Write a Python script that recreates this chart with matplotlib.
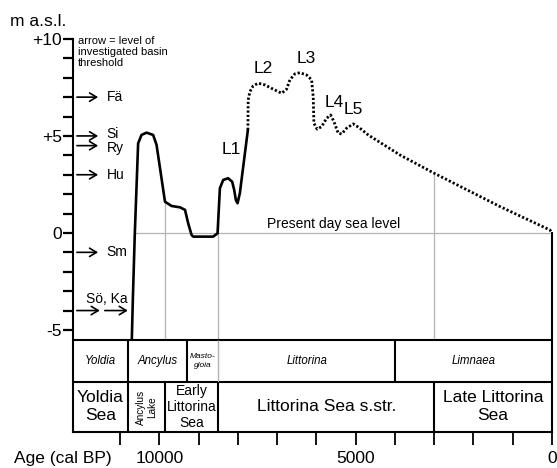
import numpy as np
import matplotlib.pyplot as plt

plt.rcParams['font.family'] = ['Liberation Sans', 'DejaVu Sans']

# shore level curve (age cal BP, m a.s.l.)
solid_age = [10702, 10676, 10627, 10541, 10455, 10327, 10159, 10072, 9857, 9690,
             9475, 9347, 9267, 9181, 9140, 8630, 8518, 8459, 8375, 8248,
             8146, 8095, 8052, 8009, 7950, 7746]
solid_lvl = [-5.5, -3.45, -0.1, 4.62, 5.05, 5.17, 5.05, 4.54, 1.61, 1.39,
             1.32, 1.19, 0.50, -0.10, -0.19, -0.19, -0.02, 2.30, 2.73, 2.82,
             2.64, 2.22, 1.70, 1.53, 2.05, 5.31]
dotted_age = [7746, 7738, 7695, 7611, 7483, 7313, 7101, 6887, 6760, 6676,
              6548, 6421, 6250, 6123, 6082, 6064, 5980, 5868, 5741, 5639,
              5555, 5445, 5358, 5231, 5063, 4892, 4681, 3873, 3032, 1325, 51, 0]
dotted_lvl = [5.31, 6.86, 7.28, 7.58, 7.72, 7.63, 7.41, 7.20, 7.41, 7.89,
              8.20, 8.26, 8.14, 7.89, 7.03, 5.65, 5.35, 5.48, 5.91, 6.08,
              5.74, 5.14, 5.10, 5.40, 5.62, 5.40, 5.05, 4.02, 3.11, 1.36, 0.15, 0.0]

peak_names = ['L1', 'L2', 'L3', 'L4', 'L5']
peak_age = [8179, 7364, 6268, 5555, 5063]
peak_lvl = [4.28, 8.5, 9.0, 6.7, 6.34]

# basin thresholds
basin_names = ['Fä', 'Si', 'Ry', 'Hu', 'Sm']
basin_lvl = [7, 5, 4.5, 3, -1]
basin_text_lvl = [7, 5.08, 4.4, 3, -1]
soka_lvl = -4

# zones
diatom_names = ['Yoldia', 'Ancylus', 'Masto-\ngloia', 'Littorina', 'Limnaea']
diatom_edges = [12200, 10800, 9300, 8500, 4000, 0]
stage_names = ['Yoldia\nSea', 'Ancylus\nLake', 'Early\nLittorina\nSea',
               'Littorina Sea s.str.', 'Late Littorina\nSea']
stage_edges = [12200, 10800, 9850, 8500, 3000, 0]

x_ticks = list(range(0, 12000, 1000))
x_labels = {10000: '10000', 5000: '5000', 0: '0'}
y_major = [-5, 0, 5, 10]
y_labels = ['-5', '0', '+5', '+10']

row1_top, row1_bot, row2_bot = -5.5, -7.68, -10.26
grey = '#b4b4b4'

fig = plt.figure(figsize=(5.57, 4.68), dpi=100)
ax = fig.add_axes([73 / 557, 36 / 468, 479 / 557, 402 / 468])
ax.set_xlim(12200, 0)
ax.set_ylim(row2_bot, 10.46)

# grid lines
curve_age = np.array(solid_age + dotted_age[1:])
curve_lvl = np.array(solid_lvl + dotted_lvl[1:])
ax.hlines(0, 10627, 0, color=grey, lw=0.9, zorder=1)
for a in [9850, 8500, 3000]:
    top = np.interp(a, curve_age[::-1], curve_lvl[::-1])
    bot = row1_bot if a == 8500 else row1_top
    ax.vlines(a, bot, top, color=grey, lw=0.9, zorder=1)

ax.plot(solid_age, solid_lvl, color='black', lw=1.9, solid_joinstyle='round',
        solid_capstyle='round', zorder=3)
ax.plot(dotted_age, dotted_lvl, color='black', lw=2.0, linestyle=(0, (0.8, 0.75)), zorder=3)

for name, a, l in zip(peak_names, peak_age, peak_lvl):
    ax.text(a, l, name, ha='center', va='center', fontsize=12.5)

ax.text(5555, 0.12, 'Present day sea level', ha='center', va='bottom', fontsize=10)

ax.text(12077, 10.15, 'arrow = level of\ninvestigated basin\nthreshold', ha='left', va='top',
        fontsize=8, linespacing=1.1)

arrow = dict(arrowstyle='->, head_length=0.5, head_width=0.3', color='black', lw=1.2,
             shrinkA=0, shrinkB=0)
for name, l, tl in zip(basin_names, basin_lvl, basin_text_lvl):
    ax.annotate('', xy=(11560, l), xytext=(12100, l), arrowprops=arrow)
    ax.text(11340, tl, name, ha='left', va='center', fontsize=10)
ax.annotate('', xy=(11517, soka_lvl), xytext=(12103, soka_lvl), arrowprops=arrow)
ax.annotate('', xy=(10803, soka_lvl), xytext=(11390, soka_lvl), arrowprops=arrow)
ax.text(11339, soka_lvl + 0.6, 'Sö, Ka', ha='center', va='center', fontsize=10)

# zone table
ax.hlines([row1_top, row1_bot], 12200, 0, color='black', lw=1.5, zorder=4)
for i, name in enumerate(diatom_names):
    l, r = diatom_edges[i], diatom_edges[i + 1]
    if 0 < i:
        c, w = ('black', 1.5) if l != 8500 else (grey, 0.9)
        ax.vlines(l, row1_bot, row1_top, color=c, lw=w, zorder=4)
    fs = 6 if 'Masto' in name else 8.3
    ax.text((l + r) / 2, (row1_top + row1_bot) / 2, name, ha='center', va='center',
            style='italic', fontsize=fs, linespacing=1.3)
for i, name in enumerate(stage_names):
    l, r = stage_edges[i], stage_edges[i + 1]
    if 0 < i:
        ax.vlines(l, row2_bot, row1_bot, color='black', lw=1.5, zorder=4)
    kw = dict(fontsize=12.5, linespacing=1.25)
    if name.startswith('Ancylus'):
        kw = dict(fontsize=7.2, rotation=90, linespacing=1.1)
    elif name.startswith('Early'):
        kw = dict(fontsize=10, linespacing=1.2)
    ax.text((l + r) / 2, (row1_bot + row2_bot) / 2, name, ha='center', va='center', **kw)

# axes
ax.spines['top'].set_visible(False)
for s in ['left', 'right', 'bottom']:
    ax.spines[s].set_linewidth(1.5)
ax.spines['left'].set_bounds(row2_bot, 10)
ax.spines['right'].set_bounds(row2_bot, 0)

ax.set_xticks(x_ticks)
ax.set_xticklabels([x_labels.get(t, '') for t in x_ticks])
ax.tick_params(axis='x', direction='out', length=9.5, width=1.3, labelsize=12.5, pad=4)
ax.set_yticks(y_major)
ax.set_yticklabels(y_labels)
ax.set_yticks(list(range(-5, 11)), minor=True)
ax.tick_params(axis='y', which='both', direction='out', length=7, width=1.6, labelsize=12.5, pad=1)

fig.text(10 / 557, 1 - 22 / 468, 'm a.s.l.', ha='left', va='center', fontsize=12.5)
fig.text(63 / 557, 1 - 458 / 468, 'Age (cal BP)', ha='center', va='center', fontsize=12.5)

fig.savefig('out.png', dpi=100)
